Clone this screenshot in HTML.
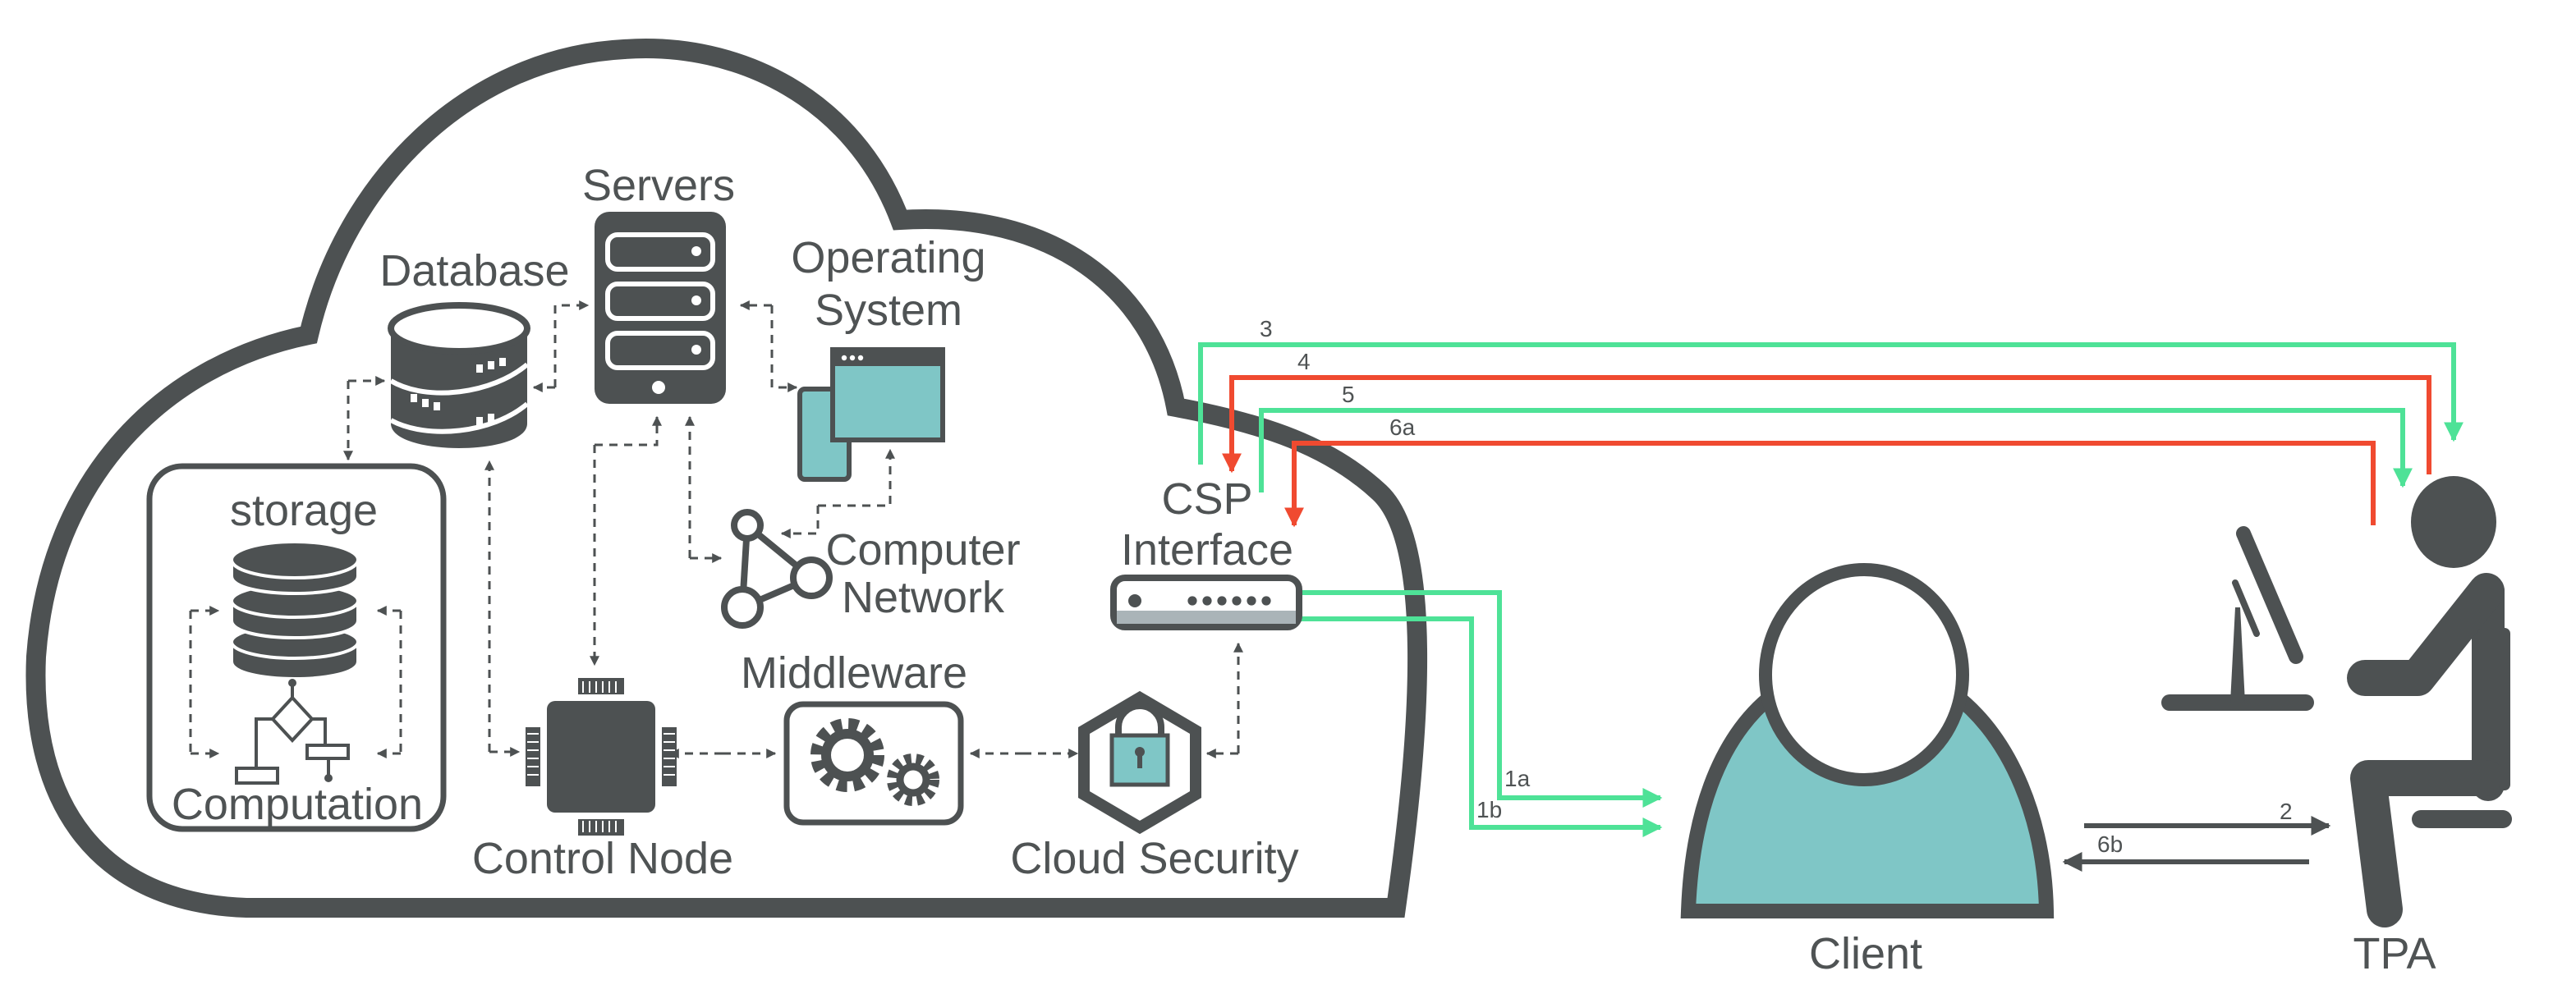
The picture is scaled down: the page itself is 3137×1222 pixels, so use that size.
<!DOCTYPE html>
<html><head><meta charset="utf-8"><style>
html,body{margin:0;padding:0;background:#fff;}
svg{display:block;}
text{font-family:"Liberation Sans",sans-serif;fill:#4f5354;}
</style></head><body>
<svg width="3137" height="1222" viewBox="0 0 1568.5 611" xmlns="http://www.w3.org/2000/svg">
<defs>
<marker id="da" viewBox="0 0 10 10" refX="9" refY="5" markerWidth="4" markerHeight="4" orient="auto"><path d="M0,0 L10,5 L0,10 z" fill="#4d5152"/></marker>
<marker id="ga" viewBox="0 0 10 10" refX="9" refY="5" markerWidth="4" markerHeight="5" orient="auto"><path d="M0,0 L10,5 L0,10 z" fill="#4ee297"/></marker>
<marker id="ra" viewBox="0 0 10 10" refX="9" refY="5" markerWidth="4" markerHeight="5" orient="auto"><path d="M0,0 L10,5 L0,10 z" fill="#f04a30"/></marker>
<marker id="ka" viewBox="0 0 10 10" refX="9" refY="5" markerWidth="4" markerHeight="5" orient="auto"><path d="M0,0 L10,5 L0,10 z" fill="#4d5152"/></marker>
</defs>

<!-- cloud -->
<path d="M150,553 L850,553 C866,440 872,330 840,300 C810,272 770,258 716,248 C702,175 640,128 548,134 C520,60 450,25 380,30 C285,35 210,110 188,204 C100,222 30,290 22,400 C18,490 60,550 150,553 Z" fill="none" stroke="#4d5152" stroke-width="12"/>

<!-- green / red lines -->
<g fill="none" stroke-width="3">
<path d="M731,283 V210 H1494 V268" stroke="#4ee297" marker-end="url(#ga)"/>
<path d="M1479,289 V230 H750 V287" stroke="#f04a30" marker-end="url(#ra)"/>
<path d="M768,300 V250 H1463 V296" stroke="#4ee297" marker-end="url(#ga)"/>
<path d="M1445,320 V270 H788 V320" stroke="#f04a30" marker-end="url(#ra)"/>
<path d="M791,361 H913 V486 H1011" stroke="#4ee297" marker-end="url(#ga)"/>
<path d="M791,377 H896 V504 H1011" stroke="#4ee297" marker-end="url(#ga)"/>
<path d="M1269,503 H1418" stroke="#4d5152" marker-end="url(#ka)"/>
<path d="M1406,525 H1257" stroke="#4d5152" marker-end="url(#ka)"/>
</g>
<g font-size="14">
<text x="767" y="205">3</text><text x="790" y="225">4</text><text x="817" y="245">5</text><text x="846" y="265">6a</text>
<text x="916" y="479">1a</text><text x="899" y="498">1b</text>
<text x="1388" y="499">2</text><text x="1277" y="519">6b</text>
</g>

<!-- dashed connectors -->
<g fill="none" stroke="#4d5152" stroke-width="1.5" stroke-dasharray="5,4">
<path d="M338,236 H325" marker-end="url(#da)"/>
<path d="M338,236 V186 H358" marker-end="url(#da)"/>
<path d="M470,186 H451" marker-end="url(#da)"/>
<path d="M470,186 V236 H485" marker-end="url(#da)"/>
<path d="M212,232 H234" marker-end="url(#da)"/>
<path d="M212,232 V280" marker-end="url(#da)"/>
<path d="M298,458 V281" marker-end="url(#da)"/>
<path d="M298,458 H316" marker-end="url(#da)"/>
<path d="M362,271 V405" marker-end="url(#da)"/>
<path d="M362,271 H400 V254" marker-end="url(#da)"/>
<path d="M420,340 V254" marker-end="url(#da)"/>
<path d="M420,340 H439" marker-end="url(#da)"/>
<path d="M498,308 H542 V274" marker-end="url(#da)"/>
<path d="M498,308 V325 H476" marker-end="url(#da)"/>
<path d="M116,372 V459"/><path d="M116,372 H133" marker-end="url(#da)"/><path d="M116,459 H133" marker-end="url(#da)"/>
<path d="M244,372 V459"/><path d="M244,372 H230" marker-end="url(#da)"/><path d="M244,459 H230" marker-end="url(#da)"/>
<path d="M440,459 H472" marker-end="url(#da)"/><path d="M440,459 H408" marker-end="url(#da)"/>
<path d="M623,459 H656" marker-end="url(#da)"/><path d="M623,459 H591" marker-end="url(#da)"/>
<path d="M754,459 H735" marker-end="url(#da)"/>
<path d="M754,459 V392" marker-end="url(#da)"/>
</g>

<!-- labels -->
<g font-size="27" text-anchor="middle">
<text x="401" y="122">Servers</text>
<text x="289" y="174">Database</text>
<text x="541" y="166">Operating</text>
<text x="541" y="198">System</text>
<text x="562" y="344">Computer</text>
<text x="562" y="373">Network</text>
<text x="735" y="313">CSP</text>
<text x="735" y="344">Interface</text>
<text x="185" y="320">storage</text>
<text x="181" y="499">Computation</text>
<text x="520" y="419">Middleware</text>
<text x="367" y="532">Control Node</text>
<text x="703" y="532">Cloud Security</text>
<text x="1136" y="590">Client</text>
<text x="1458" y="590">TPA</text>
</g>

<!-- server -->
<rect x="362" y="129" width="80" height="117" rx="9" fill="#4d5152"/>
<g fill="none" stroke="#fff" stroke-width="3">
<rect x="370" y="143" width="64" height="21" rx="6"/><rect x="370" y="173" width="64" height="21" rx="6"/><rect x="370" y="203" width="64" height="21" rx="6"/>
</g>
<g fill="#fff"><circle cx="424" cy="153" r="3"/><circle cx="424" cy="183" r="3"/><circle cx="424" cy="213" r="3"/><circle cx="401" cy="236" r="4"/></g>

<!-- database -->
<path d="M238,200 V258 C238,278 321,278 321,258 V200 Z" fill="#4d5152"/>
<ellipse cx="279.5" cy="200" rx="41.5" ry="14" fill="#fff" stroke="#4d5152" stroke-width="4"/>
<path d="M238,232 C260,245 300,240 321,222 M238,256 C260,268 300,264 321,246" stroke="#fff" stroke-width="3" fill="none"/>
<g fill="#fff"><rect x="290" y="222" width="4" height="5"/><rect x="297" y="220" width="4" height="5"/><rect x="304" y="218" width="4" height="5"/><rect x="250" y="240" width="4" height="5"/><rect x="257" y="243" width="4" height="5"/><rect x="264" y="245" width="4" height="5"/><rect x="290" y="254" width="4" height="5"/><rect x="297" y="252" width="4" height="5"/></g>

<!-- OS -->
<rect x="487" y="237" width="30" height="55" rx="3" fill="#7fc6c6" stroke="#4d5152" stroke-width="3"/>
<rect x="507" y="213" width="67" height="55" fill="#7fc6c6" stroke="#4d5152" stroke-width="3"/>
<rect x="507" y="213" width="67" height="10" fill="#4d5152"/>
<g fill="#fff"><circle cx="514" cy="218" r="1.6"/><circle cx="519" cy="218" r="1.6"/><circle cx="524" cy="218" r="1.6"/></g>

<!-- network -->
<g stroke="#4d5152" stroke-width="4" fill="#fff">
<line x1="455" y1="320" x2="494" y2="352"/><line x1="455" y1="320" x2="452" y2="370"/><line x1="452" y1="370" x2="494" y2="352"/>
<circle cx="455" cy="320" r="8"/><circle cx="494" cy="352" r="11"/><circle cx="452" cy="370" r="11"/>
</g>

<!-- router -->
<rect x="678" y="352" width="113" height="30" rx="7" fill="#fff" stroke="#4d5152" stroke-width="4"/>
<rect x="680" y="372" width="109" height="8" fill="#aab4b8"/>
<g fill="#4d5152"><circle cx="691" cy="366" r="4"/><circle cx="726" cy="366" r="2.8"/><circle cx="735" cy="366" r="2.8"/><circle cx="744" cy="366" r="2.8"/><circle cx="753" cy="366" r="2.8"/><circle cx="762" cy="366" r="2.8"/><circle cx="771" cy="366" r="2.8"/></g>

<!-- storage box -->
<rect x="91" y="284" width="179" height="221" rx="20" fill="none" stroke="#4d5152" stroke-width="3.5"/>
<g fill="#4d5152" stroke="#fff" stroke-width="2">
<path d="M141,391 v12 c0,14 77,14 77,0 v-12 z"/><ellipse cx="179.5" cy="391" rx="38.5" ry="10"/>
<path d="M141,366 v12 c0,14 77,14 77,0 v-12 z"/><ellipse cx="179.5" cy="366" rx="38.5" ry="10"/>
<path d="M141,341 v10 c0,14 77,14 77,0 v-10 z"/><ellipse cx="179.5" cy="341" rx="38.5" ry="11"/>
</g>
<g stroke="#4d5152" stroke-width="2" fill="#fff">
<path d="M178,416 V425 M168,438 H156 V470 M188,438 H198 V454 M200,462 V474"/>
<path d="M178,425 L190,438 L178,451 L166,438 Z"/>
<rect x="144" y="468" width="25" height="9"/><rect x="187" y="454" width="25" height="8"/>
</g>
<circle cx="178" cy="416" r="2.5" fill="#4d5152"/><circle cx="200" cy="474" r="2.5" fill="#4d5152"/>

<!-- control node chip -->
<rect x="333" y="427" width="66" height="68" rx="5" fill="#4d5152"/>
<g fill="#4d5152"><rect x="352" y="413" width="28" height="10"/><rect x="352" y="499" width="28" height="10"/><rect x="320" y="443" width="9" height="36"/><rect x="403" y="443" width="9" height="36"/></g>
<g stroke="#fff" stroke-width="1"><path d="M355,415 v7 M359,415 v7 M363,415 v7 M367,415 v7 M371,415 v7 M375,415 v7 M355,500 v7 M359,500 v7 M363,500 v7 M367,500 v7 M371,500 v7 M375,500 v7 M321,447 h7 M321,452 h7 M321,457 h7 M321,462 h7 M321,467 h7 M321,472 h7 M404,447 h7 M404,452 h7 M404,457 h7 M404,462 h7 M404,467 h7 M404,472 h7"/></g>

<!-- middleware -->
<rect x="479" y="429" width="106" height="72" rx="10" fill="#fff" stroke="#4d5152" stroke-width="3.5"/>
<circle cx="516" cy="460" r="19" fill="none" stroke="#4d5152" stroke-width="7" stroke-dasharray="6,4"/>
<circle cx="516" cy="460" r="13" fill="none" stroke="#4d5152" stroke-width="6"/>
<circle cx="556" cy="475" r="13" fill="none" stroke="#4d5152" stroke-width="6" stroke-dasharray="4,3"/>
<circle cx="556" cy="475" r="8" fill="none" stroke="#4d5152" stroke-width="4.5"/>

<!-- security hex -->
<path d="M694,425 L728,445 L728,484 L694,504 L660,484 L660,445 Z" fill="#fff" stroke="#4d5152" stroke-width="7"/>
<path d="M681,448 v-5 a13,13 0 0 1 26,0 v5" fill="none" stroke="#4d5152" stroke-width="4"/>
<rect x="677" y="448" width="34" height="30" fill="#7fc6c6" stroke="#4d5152" stroke-width="2.5"/>
<path d="M694,458 v10" stroke="#4d5152" stroke-width="3"/><circle cx="694" cy="458" r="3" fill="#4d5152"/>

<!-- client -->
<path d="M1028,555 C1030,500 1045,450 1080,423 C1100,460 1120,468 1135,468 C1155,468 1175,460 1190,423 C1225,450 1245,500 1246,555 Z" fill="#7fc6c6" stroke="#4d5152" stroke-width="9"/>
<ellipse cx="1135" cy="411" rx="60" ry="64" fill="#fff" stroke="#4d5152" stroke-width="8"/>

<!-- TPA -->
<ellipse cx="1494" cy="318" rx="26" ry="28" fill="#4d5152"/>
<g stroke="#4d5152" stroke-linecap="round" stroke-linejoin="round" fill="none">
<path d="M1515,360 V478" stroke-width="20"/>
<path d="M1514,360 L1472,413 H1440" stroke-width="22"/>
<path d="M1514,474 H1442 L1452,554" stroke-width="22"/>
<path d="M1525,386 V478" stroke-width="7"/>
<path d="M1474,499 H1524" stroke-width="11"/>
<path d="M1366,325 L1398,400" stroke-width="9"/>
<path d="M1361,355 L1374,386" stroke-width="4"/>
<path d="M1321,428 H1404" stroke-width="10"/>
</g>
<path d="M1361,370 L1364,370 L1367,428 L1358,428 Z" fill="#4d5152"/>
</svg>
</body></html>
